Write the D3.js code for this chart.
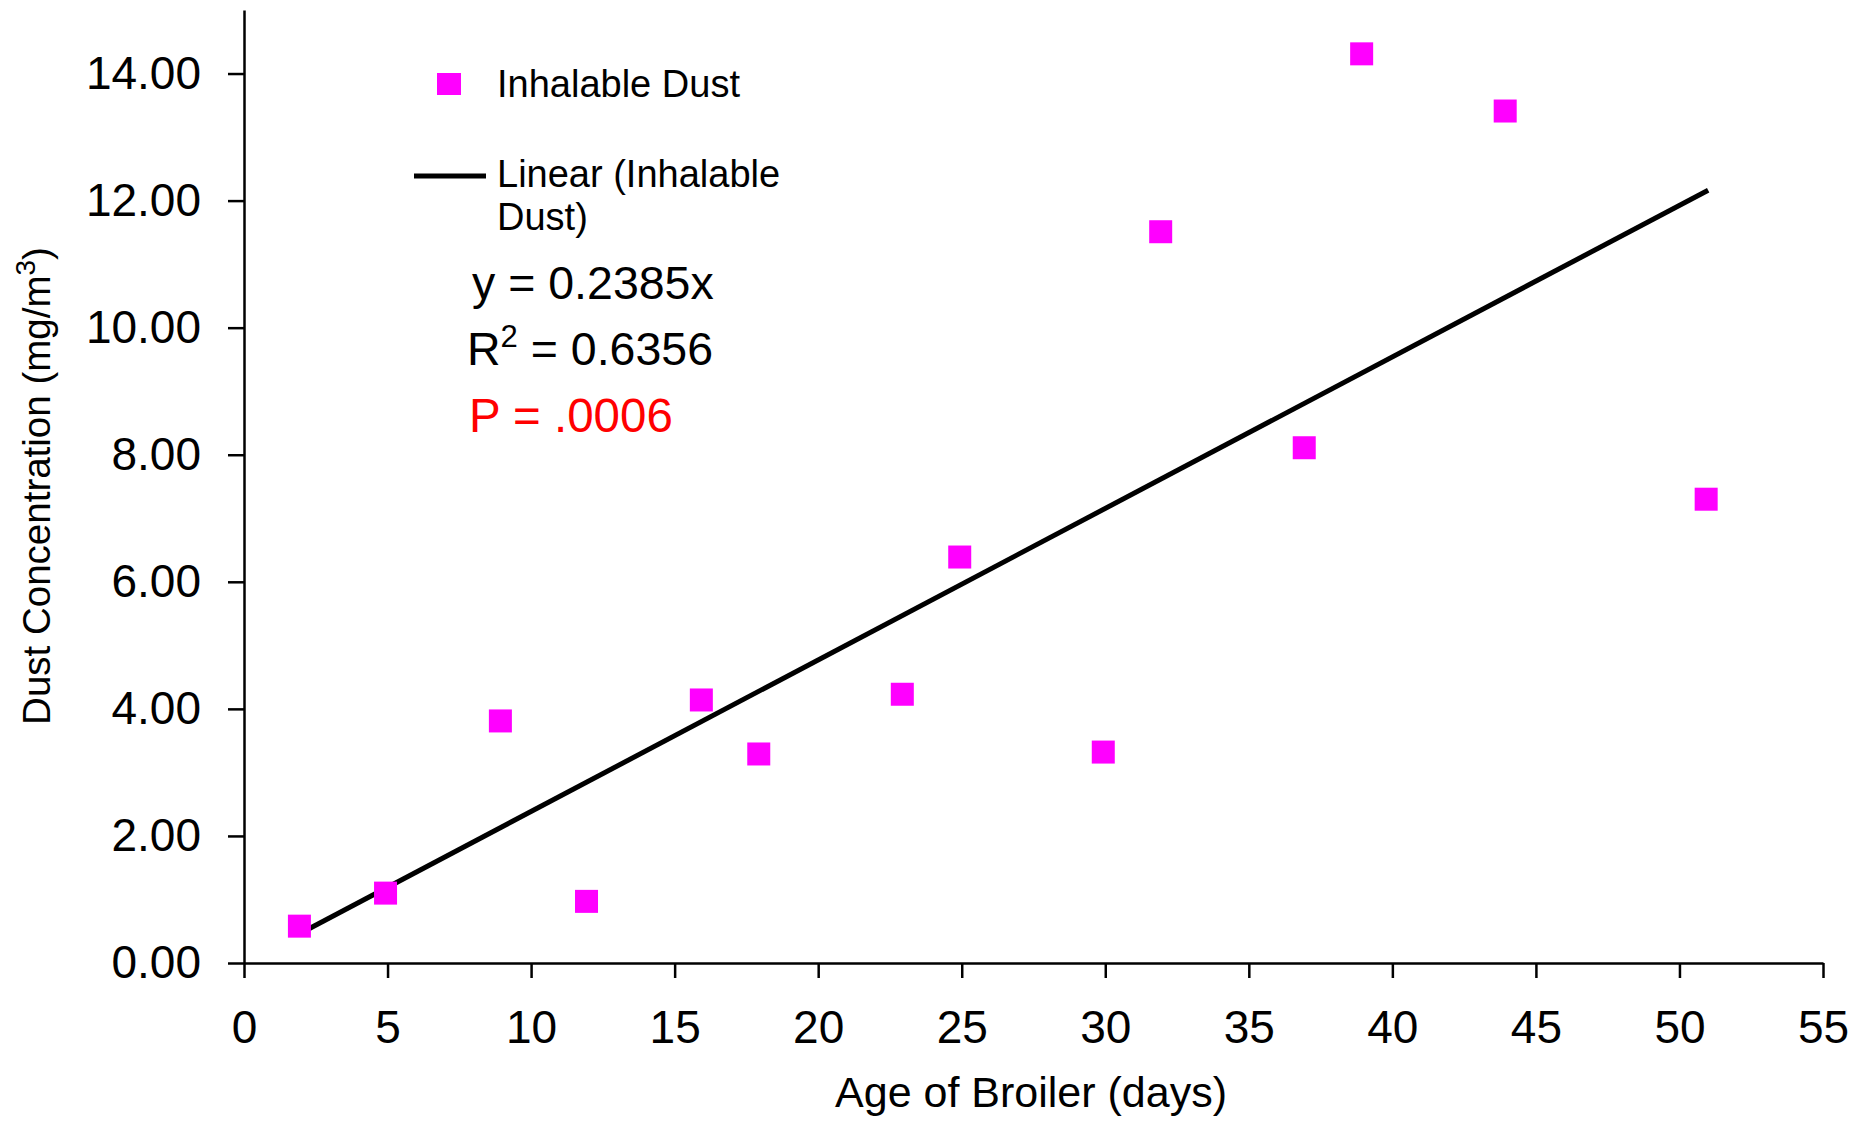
<!DOCTYPE html>
<meta charset="utf-8">
<style>
  body { margin: 0; background: #fff; }
  text { font-family: Arial, "Liberation Sans", sans-serif; fill: #000; }
</style>
<body>
<div id="my_dataviz"></div>
<script src="https://d3js.org/d3.v7.min.js"></script>
<script>
  // data
  var ageDays = [2, 5, 9, 12, 16, 18, 23, 25, 30, 32, 37, 39, 44, 51];
  var dustConc = [0.58, 1.10, 3.81, 0.97, 4.14, 3.29, 4.23, 6.39, 3.32, 11.51, 8.11, 14.31, 13.41, 7.30];
  var xTicks = [0, 5, 10, 15, 20, 25, 30, 35, 40, 45, 50, 55];
  var yTicks = [0, 2, 4, 6, 8, 10, 12, 14];
  var trendSlope = 0.2385;
  var trendRange = [2, 51];

  var margin = { top: 10, right: 27, bottom: 161, left: 244 },
    width = 1850 - margin.left - margin.right,
    height = 1124 - margin.top - margin.bottom;

  var svg = d3.select("#my_dataviz")
    .append("svg")
    .attr("width", 1850)
    .attr("height", 1124)
    .append("g")
    .attr("transform", "translate(" + margin.left + "," + margin.top + ")");

  var x = d3.scaleLinear().domain([0, 55]).range([0, width]);
  var y = d3.scaleLinear().domain([0, 15]).range([height, 0]);

  // X axis
  var xAxis = svg.append("g")
    .attr("transform", "translate(0," + height + ")")
    .call(d3.axisBottom(x).tickValues(xTicks).tickSize(15).tickSizeOuter(0).tickPadding(32)
      .tickFormat(d3.format("d")));
  // Y axis
  var yAxis = svg.append("g")
    .call(d3.axisLeft(y).tickValues(yTicks).tickSize(16).tickSizeOuter(0).tickPadding(27)
      .tickFormat(d3.format(".2f")));

  [xAxis, yAxis].forEach(function (a) {
    a.selectAll("path, line").attr("stroke", "#000").attr("stroke-width", 2.5);
    a.selectAll("text").style("font-size", "46px").attr("fill", "#000")
      .style("font-family", "Arial, 'Liberation Sans', sans-serif");
  });

  // trend line
  svg.append("line")
    .attr("x1", x(trendRange[0])).attr("y1", y(trendSlope * trendRange[0]))
    .attr("x2", x(trendRange[1])).attr("y2", y(trendSlope * trendRange[1]))
    .attr("stroke", "#000")
    .attr("stroke-width", 5);

  // points (the original markers sit a hair left of the day ticks)
  var sq = 23;
  svg.append("g")
    .selectAll("rect")
    .data(ageDays)
    .enter()
    .append("rect")
    .attr("x", function (d) { return x(d) - sq / 2 - 2; })
    .attr("y", function (d, i) { return y(dustConc[i]) - sq / 2; })
    .attr("width", sq)
    .attr("height", sq)
    .attr("fill", "#ff00ff");

  // axis titles
  svg.append("text")
    .attr("x", 1031 - margin.left)
    .attr("y", 1107 - margin.top)
    .attr("text-anchor", "middle")
    .style("font-size", "43px")
    .text("Age of Broiler (days)");

  var yt = svg.append("text")
    .attr("transform", "translate(" + (50 - margin.left) + "," + (486 - margin.top) + ") rotate(-90)")
    .attr("text-anchor", "middle")
    .style("font-size", "38.5px");
  yt.append("tspan").text("Dust Concentration  (mg/m");
  yt.append("tspan").attr("dy", -15).style("font-size", "28px").text("3");
  yt.append("tspan").attr("dy", 15).text(")");

  // legend
  var leg = d3.select("svg");
  leg.append("rect")
    .attr("x", 437).attr("y", 73).attr("width", 24).attr("height", 22)
    .attr("fill", "#ff00ff");
  leg.append("text").attr("x", 497).attr("y", 97).style("font-size", "38px").text("Inhalable Dust");
  leg.append("line")
    .attr("x1", 414).attr("x2", 486).attr("y1", 176).attr("y2", 176)
    .attr("stroke", "#000").attr("stroke-width", 5);
  leg.append("text").attr("x", 497).attr("y", 187).style("font-size", "38px").text("Linear (Inhalable");
  leg.append("text").attr("x", 497).attr("y", 230).style("font-size", "38px").text("Dust)");

  // equation annotations
  leg.append("text").attr("x", 472).attr("y", 299).style("font-size", "46.5px").text("y = 0.2385x");
  var r2 = leg.append("text").attr("x", 467).attr("y", 365).style("font-size", "46.5px");
  r2.append("tspan").text("R");
  r2.append("tspan").attr("dy", -18).style("font-size", "31px").text("2");
  r2.append("tspan").attr("dy", 18).text(" = 0.6356");
  leg.append("text").attr("x", 469).attr("y", 432).style("font-size", "47.5px")
    .style("fill", "#ff0000").text("P = .0006");
</script>
</body>
